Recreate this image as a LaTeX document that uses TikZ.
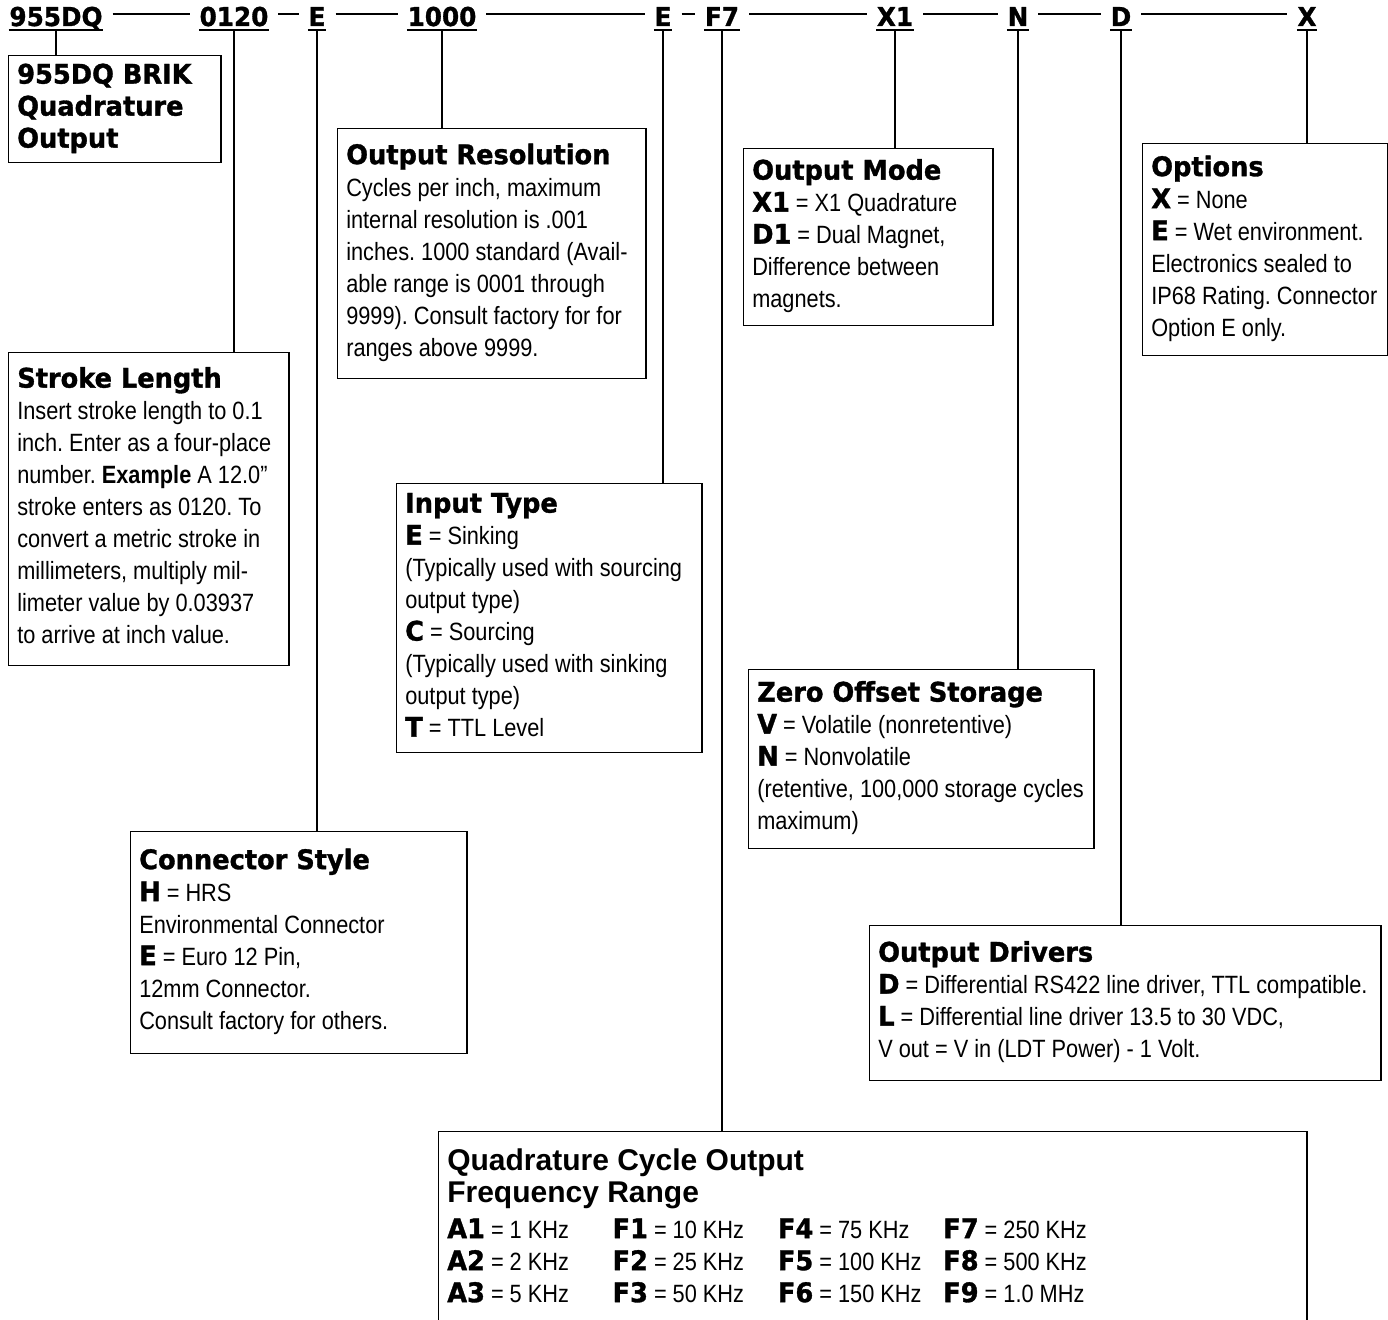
\documentclass[tikz,border=0pt]{standalone}
\usepackage{fontspec}
\setmainfont{Liberation Sans}[FakeStretch=0.87]
\newfontfamily\hvfont{DejaVu Sans}[FakeStretch=0.95, BoldFeatures={FakeBold=1.2}]
\newfontfamily\qfont{Liberation Sans}
\newcommand{\hv}[1]{{\hvfont\bfseries\fontsize{20.25}{24}\selectfont #1}}
\newcommand{\qttl}[1]{{\qfont\bfseries\fontsize{22.5}{24}\selectfont #1}}
\newcommand{\boxtext}[2]{\makebox[#1][l]{\begin{tabular}{@{}l@{}}#2\end{tabular}}}
\frenchspacing

\tikzset{every picture/.style={line width=1.1pt}}
\tikzset{
  code/.style={anchor=base, inner sep=0pt, font=\hvfont\bfseries\fontsize{19.5}{24}\selectfont, text height=18pt, text depth=0pt},
  dashline/.style={shorten <=7pt, shorten >=7pt},
  infobox/.style={draw, anchor=north west, inner xsep=6.4pt, inner ysep=2pt, font=\fontsize{18.75}{24}\selectfont},
}

\begin{document}
\begin{tikzpicture}[x=0.75pt,y=0.75pt,yscale=-1,xscale=1]
\useasboundingbox (0,0) rectangle (1388,1320);

% Text Node
\node [code] (cDQ) at (56,26) {955DQ};
% Text Node
\node [code] (c0120) at (234,26) {0120};
% Text Node
\node [code] (cE) at (317,26) {E};
% Text Node
\node [code] (c1000) at (442,26) {1000};
% Text Node
\node [code] (cEin) at (663,26) {E};
% Text Node
\node [code] (cF7) at (722,26) {F7};
% Text Node
\node [code] (cX1) at (895,26) {X1};
% Text Node
\node [code] (cN) at (1018,26) {N};
% Text Node
\node [code] (cD) at (1121,26) {D};
% Text Node
\node [code] (cX) at (1307,26) {X};

%Straight Lines
\draw [dashline] (cDQ) -- (c0120);
\draw [dashline] (c0120) -- (cE);
\draw [dashline] (cE) -- (c1000);
\draw [dashline] (c1000) -- (cEin);
\draw [dashline] (cEin) -- (cF7);
\draw [dashline] (cF7) -- (cX1);
\draw [dashline] (cX1) -- (cN);
\draw [dashline] (cN) -- (cD);
\draw [dashline] (cD) -- (cX);

%Shape: Rectangle
\node [infobox, minimum height=80.25pt] (brik) at (8,55)
  {\boxtext{146.25pt}{\hv{955DQ BRIK}\\ \hv{Quadrature}\\ \hv{Output}}};
%Shape: Rectangle
\node [infobox, minimum height=234.75pt] (stroke) at (8,352)
  {\boxtext{197.25pt}{\hv{Stroke Length}\\
   Insert stroke length to 0.1\\
   inch. Enter as a four-place\\
   number. \textbf{Example} A 12.0”\\
   stroke enters as 0120. To\\
   convert a metric stroke in\\
   millimeters, multiply mil-\\
   limeter value by 0.03937\\
   to arrive at inch value.}};
%Shape: Rectangle
\node [infobox, minimum height=166.5pt] (conn) at (130,831)
  {\boxtext{239.25pt}{\hv{Connector Style}\\
   \hv{H} = HRS\\
   Environmental Connector\\
   \hv{E} = Euro 12 Pin,\\
   12mm Connector.\\
   Consult factory for others.}};
%Shape: Rectangle
\node [infobox, minimum height=187.5pt] (res) at (337,128)
  {\boxtext{218.25pt}{\hv{Output Resolution}\\
   Cycles per inch, maximum\\
   internal resolution is .001\\
   inches. 1000 standard (Avail-\\
   able range is 0001 through\\
   9999). Consult factory for for\\
   ranges above 9999.}};
%Shape: Rectangle
\node [infobox, minimum height=201.75pt] (input) at (396,483)
  {\boxtext{216pt}{\hv{Input Type}\\
   \hv{E} = Sinking\\
   (Typically used with sourcing\\
   output type)\\
   \hv{C} = Sourcing\\
   (Typically used with sinking\\
   output type)\\
   \hv{T} = TTL Level}};
%Shape: Rectangle
\node [infobox, inner ysep=12pt] (quad) at (438,1131)
  {\parbox[t][150pt][t]{638.25pt}{\begin{tabular}{@{}l@{}}
   \qttl{Quadrature Cycle Output}\\
   \qttl{Frequency Range}\\[3pt]
   \makebox[124pt][l]{\hv{A1} = 1 KHz}\makebox[124pt][l]{\hv{F1} = 10 KHz}\makebox[124pt][l]{\hv{F4} = 75 KHz}\hv{F7} = 250 KHz\\
   \makebox[124pt][l]{\hv{A2} = 2 KHz}\makebox[124pt][l]{\hv{F2} = 25 KHz}\makebox[124pt][l]{\hv{F5} = 100 KHz}\hv{F8} = 500 KHz\\
   \makebox[124pt][l]{\hv{A3} = 5 KHz}\makebox[124pt][l]{\hv{F3} = 50 KHz}\makebox[124pt][l]{\hv{F6} = 150 KHz}\hv{F9} = 1.0 MHz
   \end{tabular}}};
%Shape: Rectangle
\node [infobox, minimum height=132.75pt] (mode) at (743,148)
  {\boxtext{174pt}{\hv{Output Mode}\\
   \hv{X1} = X1 Quadrature\\
   \hv{D1} = Dual Magnet,\\
   Difference between\\
   magnets.}};
%Shape: Rectangle
\node [infobox, minimum height=134.25pt] (zero) at (748,669)
  {\boxtext{246pt}{\hv{Zero Offset Storage}\\
   \hv{V} = Volatile (nonretentive)\\
   \hv{N} = Nonvolatile\\
   (retentive, 100,000 storage cycles\\
   maximum)}};
%Shape: Rectangle
\node [infobox, minimum height=116.25pt] (drivers) at (869,925)
  {\boxtext{370.5pt}{\hv{Output Drivers}\\
   \hv{D} = Differential RS422 line driver, TTL compatible.\\
   \hv{L} = Differential line driver 13.5 to 30 VDC,\\
   V out = V in (LDT Power) - 1 Volt.}};
%Shape: Rectangle
\node [infobox, minimum height=159pt] (options) at (1142,143)
  {\boxtext{171pt}{\hv{Options}\\
   \hv{X} = None\\
   \hv{E} = Wet environment.\\
   Electronics sealed to\\
   IP68 Rating. Connector\\
   Option E only.}};

%Straight Lines
\draw ([yshift=3pt]cDQ.base west) -- ([yshift=3pt]cDQ.base east);
\draw ([yshift=3pt]c0120.base west) -- ([yshift=3pt]c0120.base east);
\draw ([yshift=3pt]cE.base west) -- ([yshift=3pt]cE.base east);
\draw ([yshift=3pt]c1000.base west) -- ([yshift=3pt]c1000.base east);
\draw ([yshift=3pt]cEin.base west) -- ([yshift=3pt]cEin.base east);
\draw ([yshift=3pt]cF7.base west) -- ([yshift=3pt]cF7.base east);
\draw ([yshift=3pt]cX1.base west) -- ([yshift=3pt]cX1.base east);
\draw ([yshift=3pt]cN.base west) -- ([yshift=3pt]cN.base east);
\draw ([yshift=3pt]cD.base west) -- ([yshift=3pt]cD.base east);
\draw ([yshift=3pt]cX.base west) -- ([yshift=3pt]cX.base east);

%Straight Lines
\draw ([yshift=3pt]cDQ.base) -- (cDQ.base |- brik.north);
\draw ([yshift=3pt]c0120.base) -- (c0120.base |- stroke.north);
\draw ([yshift=3pt]cE.base) -- (cE.base |- conn.north);
\draw ([yshift=3pt]c1000.base) -- (c1000.base |- res.north);
\draw ([yshift=3pt]cEin.base) -- (cEin.base |- input.north);
\draw ([yshift=3pt]cF7.base) -- (cF7.base |- quad.north);
\draw ([yshift=3pt]cX1.base) -- (cX1.base |- mode.north);
\draw ([yshift=3pt]cN.base) -- (cN.base |- zero.north);
\draw ([yshift=3pt]cD.base) -- (cD.base |- drivers.north);
\draw ([yshift=3pt]cX.base) -- (cX.base |- options.north);

\end{tikzpicture}
\end{document}
